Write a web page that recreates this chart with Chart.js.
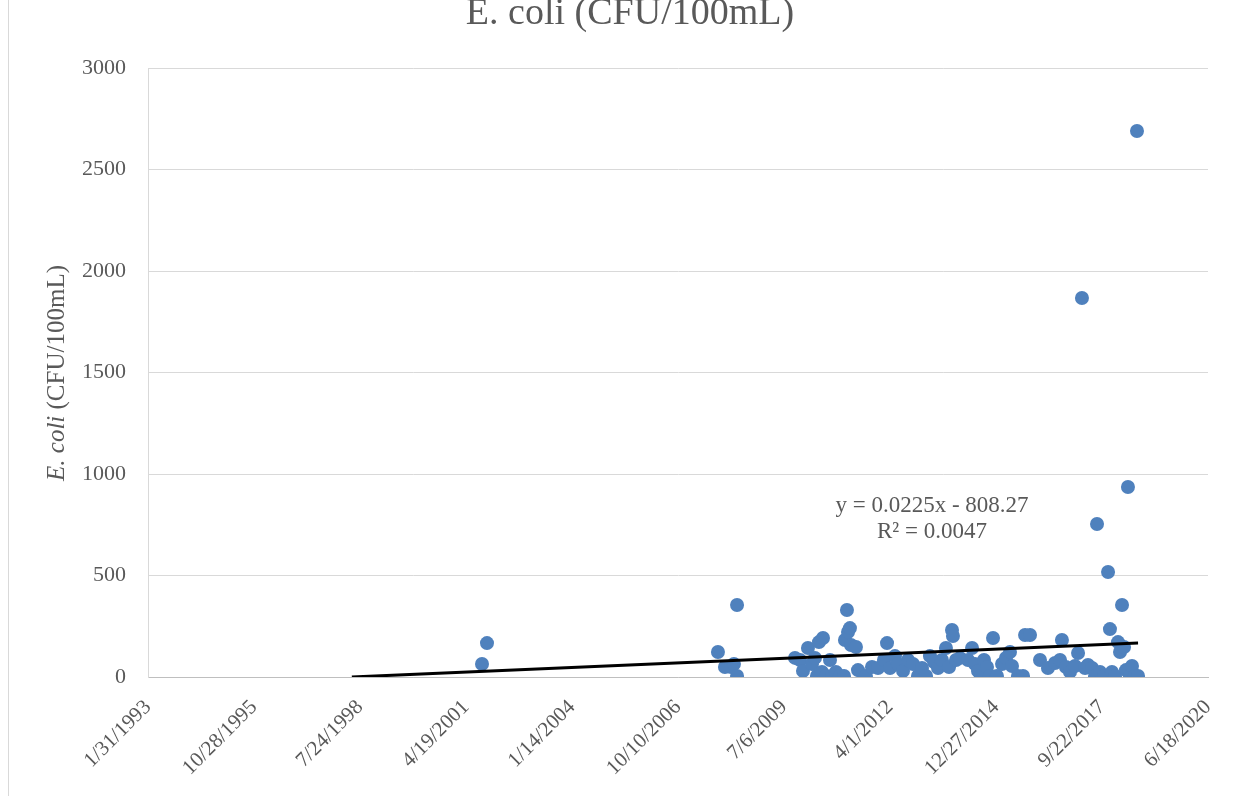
<!DOCTYPE html>
<html><head><meta charset="utf-8">
<script src="https://cdn.jsdelivr.net/npm/chart.js@4"></script>
<style>html,body{margin:0;padding:0;background:#fff}#wrap{position:relative;width:1252px;height:796px}</style>
</head><body><div id="wrap"><canvas id="c" width="1252" height="796"></canvas></div>
<script>
// Excel serial dates of samples
const sampleDates = [37151,37198,39377,39443,39500,39528,39557,39557,40104,40151,40179,40226,40264,40292,40311,40330,40368,40358,40396,40434,40453,40490,40528,40566,40575,40594,40604,40622,40632,40679,40698,40773,40830,40887,40972,40943,41000,41047,41075,41123,41170,41217,41264,41302,41340,41377,41415,41453,41490,41528,41557,41585,41594,41623,41660,41736,41774,41802,41830,41858,41887,41915,41943,41972,42009,42057,42094,42132,42151,42207,42255,42274,42321,42415,42490,42557,42604,42622,42660,42698,42745,42774,42811,42840,42868,42906,42934,42953,42981,43019,43057,43075,43094,43123,43151,43170,43189,43208,43226,43245,43264,43283,43311,43330,43340];
const ecoliValues = [64,167,123,49,49,64,5,355,94,84,30,143,64,94,5,172,192,25,5,84,5,25,5,5,182,330,222,241,158,148,34,5,49,44,167,84,44,103,64,30,84,64,5,44,5,103,74,44,84,143,49,232,202,84,94,84,143,64,30,5,84,49,5,192,5,64,94,123,54,5,5,207,207,84,44,69,84,182,49,25,54,118,1867,44,59,44,5,754,25,5,517,236,25,5,172,123,355,148,34,936,5,54,5,2690,5];
const xTickValues = [34000,35000,36000,37000,38000,39000,40000,41000,42000,43000,44000];
const xTickLabels = ['1/31/1993','10/28/1995','7/24/1998','4/19/2001','1/14/2004','10/10/2006','7/6/2009','4/1/2012','12/27/2014','9/22/2017','6/18/2020'];
const yTickValues = [0,500,1000,1500,2000,2500,3000];
const trendSlope = 0.0225, trendIntercept = -808.27;
const trendRange = [35923, 43340];
const titleText = 'E. coli (CFU/100mL)';
const equationLines = ['y = 0.0225x - 808.27', 'R\u00B2 = 0.0047'];

const points = sampleDates.map((d, i) => ({x: d, y: ecoliValues[i]}));
const trendPoints = trendRange.map(x => ({x: x, y: trendSlope * x + trendIntercept}));
const FONT = '"Liberation Serif", "Times New Roman", serif';
const TXT = '#595959';

const decor = {
  id: 'decor',
  beforeDraw(chart) {
    const ctx = chart.ctx;
    ctx.save();
    ctx.strokeStyle = '#D9D9D9';
    ctx.lineWidth = 1;
    ctx.beginPath(); ctx.moveTo(8.5, 0); ctx.lineTo(8.5, 796); ctx.stroke();
    ctx.restore();
  },
  afterDraw(chart) {
    const ctx = chart.ctx;
    ctx.save();
    ctx.fillStyle = TXT;
    ctx.textAlign = 'center';
    ctx.textBaseline = 'alphabetic';
    ctx.font = '38px ' + FONT;
    ctx.fillText(titleText, 630, 24);
    // equation
    ctx.font = '23px ' + FONT;
    ctx.textBaseline = 'middle';
    ctx.fillText(equationLines[0], 932, 506);
    ctx.fillText(equationLines[1], 932, 532);
    // y axis title, rotated, with italic part
    ctx.translate(57, 373);
    ctx.rotate(-Math.PI / 2);
    const p1 = 'E. coli', p2 = ' (CFU/100mL)';
    ctx.font = 'italic 25px ' + FONT;
    const w1 = ctx.measureText(p1).width;
    ctx.font = '25px ' + FONT;
    const w2 = ctx.measureText(p2).width;
    const start = -(w1 + w2) / 2;
    ctx.textAlign = 'left';
    ctx.font = 'italic 25px ' + FONT;
    ctx.fillText(p1, start, 0);
    ctx.font = '25px ' + FONT;
    ctx.fillText(p2, start + w1, 0);
    ctx.restore();
  }
};

new Chart(document.getElementById('c'), {
  type: 'scatter',
  data: {
    datasets: [
      {
        label: 'E. coli',
        data: points,
        backgroundColor: '#4F81BD',
        borderColor: '#4F81BD',
        borderWidth: 0,
        pointRadius: 7,
        pointHoverRadius: 7,
        order: 2
      },
      {
        label: 'Trend',
        type: 'line',
        data: trendPoints,
        borderColor: '#000000',
        borderWidth: 3,
        pointRadius: 0,
        fill: false,
        order: 1
      }
    ]
  },
  options: {
    responsive: false,
    animation: false,
    layout: {padding: {top: 68, right: 44, left: 0, bottom: 0}},
    plugins: {legend: {display: false}, tooltip: {enabled: false}, title: {display: false}},
    scales: {
      x: {
        type: 'linear',
        min: 34000, max: 44000,
        afterBuildTicks(scale) { scale.ticks = xTickValues.map(v => ({value: v})); },
        afterFit(scale) { scale.height = 119; },
        grid: {display: false, drawTicks: false},
        border: {display: true, color: '#BFBFBF', width: 1},
        ticks: {
          color: TXT, font: {family: FONT, size: 21},
          minRotation: 45, maxRotation: 45, padding: 18,
          callback(v) { const i = xTickValues.indexOf(v); return i >= 0 ? xTickLabels[i] : ''; }
        }
      },
      y: {
        min: 0, max: 3000,
        afterBuildTicks(scale) { scale.ticks = yTickValues.map(v => ({value: v})); },
        afterFit(scale) { scale.width = 148; },
        grid: {color: '#D9D9D9', drawTicks: false, lineWidth: 1},
        border: {display: true, color: '#D9D9D9', width: 1},
        ticks: {color: TXT, font: {family: FONT, size: 22}, padding: 22, callback(v) { return String(v); }}
      }
    }
  },
  plugins: [decor]
});
</script></body></html>
